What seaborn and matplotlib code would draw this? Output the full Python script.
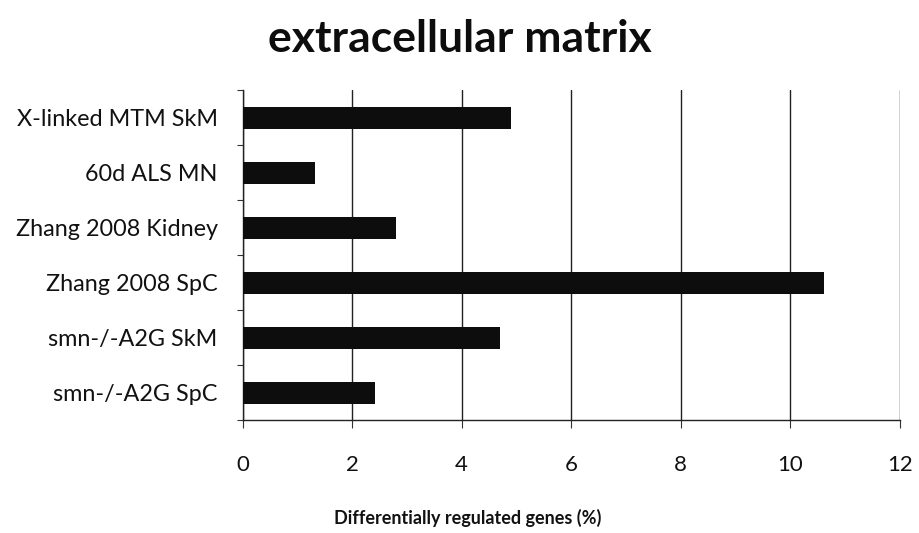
import matplotlib
matplotlib.use("Agg")
import matplotlib.pyplot as plt
import seaborn as sns
import pandas as pd
import numpy as np

# Datasets (top to bottom) and share of differentially regulated genes
datasets = [
    "X-linked MTM SkM",
    "60d ALS MN",
    "Zhang 2008 Kidney",
    "Zhang 2008 SpC",
    "smn-/-A2G SkM",
    "smn-/-A2G SpC",
]
percent = [4.91, 1.32, 2.81, 10.61, 4.71, 2.42]
x_ticks = [0, 2, 4, 6, 8, 10, 12]

df = pd.DataFrame({"dataset": datasets, "percent": percent})

sns.set_theme(style="white")
plt.rcParams["font.family"] = ["Lato", "DejaVu Sans"]

fig = plt.figure(figsize=(9.2, 5.33), dpi=100)
ax = fig.add_axes([0.2636, 0.212, 0.978 - 0.2636, 0.831 - 0.212])

sns.barplot(data=df, x="percent", y="dataset", order=datasets, orient="h",
            color="#0d0d0d", width=0.4, saturation=1, linewidth=0,
            ax=ax, zorder=3)

ax.set_xlim(0, 12)
ax.set_ylim(len(datasets) - 0.5, -0.5)
ax.set_xticks(x_ticks)
ax.set_xticklabels([str(t) for t in x_ticks])
ax.xaxis.grid(True, color="#222222", linewidth=1.0, zorder=0)
ax.yaxis.grid(False)

for side in ("top", "right"):
    ax.spines[side].set_visible(False)
for side in ("left", "bottom"):
    ax.spines[side].set_visible(True)
    ax.spines[side].set_color("#222222")
    ax.spines[side].set_linewidth(1.0)

# category boundary ticks on the y axis
ax.set_yticks(np.arange(-0.5, len(datasets), 1.0), minor=True)
ax.tick_params(axis="y", which="major", length=0, pad=18, labelsize=16.8,
               labelcolor="#111111")
ax.tick_params(axis="y", which="minor", left=True, length=4, width=0.8,
               color="#333333", direction="out")
ax.tick_params(axis="x", which="major", bottom=True, length=6, width=0.8,
               color="#333333", direction="out", pad=19, labelsize=16,
               labelcolor="#111111")

ax.set_ylabel("")
ax.set_xlabel("")
fig.text(0.508, 0.028, "Differentially regulated genes (%)", ha="center",
         va="center", fontsize=13, fontweight="bold", color="#111111")

fig.suptitle("extracellular matrix", x=0.5, y=0.927, va="center",
             fontsize=32, fontweight="bold", color="#0d0d0d")

fig.savefig("out.png", dpi=100)
